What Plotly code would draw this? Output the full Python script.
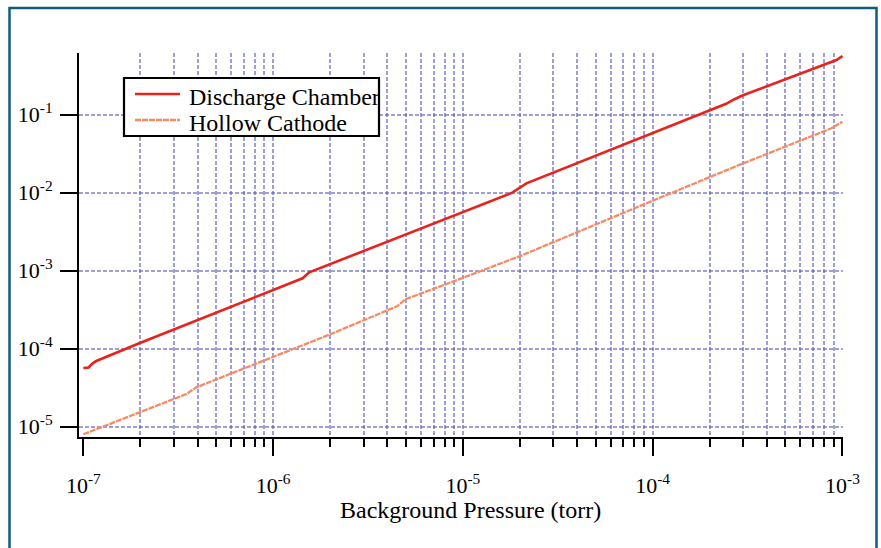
import plotly.graph_objects as go

# Background pressure (torr) and the two computed curves
discharge_p = [1.0e-7, 1.06e-7, 1.12e-7, 1.17e-7, 2.0e-7, 1.0e-6, 1.43e-6, 1.55e-6,
               4.25e-6, 1.0e-5, 1.82e-5, 2.16e-5, 1.0e-4, 1.94e-4,
               2.44e-4, 2.7e-4, 2.97e-4, 9.3e-4, 1.0e-3]
discharge_v = [5.66e-5, 5.72e-5, 6.5e-5, 6.95e-5, 1.19e-4, 5.66e-4, 8.0e-4, 9.53e-4,
               2.48e-3, 5.7e-3, 1.0e-2, 1.32e-2, 5.8e-2, 0.109,
               0.138, 0.158, 0.176, 0.502, 0.566]

cathode_p = [1.0e-7, 2.0e-7, 3.49e-7, 3.94e-7, 1.0e-6, 2.0e-6, 4.52e-6, 4.98e-6,
             1.0e-5, 2.0e-5, 1.0e-4, 2.86e-4, 8.75e-4, 1.0e-3]
cathode_v = [8.0e-6, 1.56e-5, 2.62e-5, 3.2e-5, 7.83e-5, 1.53e-4, 3.52e-4, 4.3e-4,
             8.1e-4, 1.54e-3, 7.9e-3, 2.27e-2, 6.7e-2, 8.13e-2]

series_names = ["Discharge Chamber", "Hollow Cathode"]
x_decades = [-7, -6, -5, -4, -3]
y_decades = [-5, -4, -3, -2, -1]
x_title = "Background Pressure (torr)"

W, H = 881, 548
ML, MR, MT, MB = 79, 38, 53, 111
PW, PH = W - ML - MR, H - MT - MB

FONT = "Liberation Serif, Times New Roman, serif"
GRID = "rgba(95,95,190,0.6)"
RED = "#e8221c"
ORANGE = "#f58b65"
ORANGE_DASH = "6px,1px"


def px_to_paper_x(px):
    return (px - ML) / PW


def px_to_paper_y(py):
    return (H - MB - py) / PH


fig = go.Figure()
fig.add_trace(go.Scatter(
    x=discharge_p, y=discharge_v, mode="lines", name=series_names[0],
    line=dict(color=RED, width=2.6), showlegend=False))
fig.add_trace(go.Scatter(
    x=cathode_p, y=cathode_v, mode="lines", name=series_names[1],
    line=dict(color=ORANGE, width=2.3, dash=ORANGE_DASH), showlegend=False))

# minor x grid/ticks: 2..9 in every decade plus the decades after the first
minor_x = [k * 10.0 ** e for e in x_decades[:-1] for k in range(2, 10)]
minor_x += [10.0 ** e for e in x_decades[1:]]

fig.update_xaxes(
    type="log", range=[-7.023, -2.997],
    tickmode="array", tickvals=[10.0 ** e for e in x_decades],
    ticktext=[f"10<sup>{e}</sup>" for e in x_decades],
    ticks="outside", ticklen=17, tickwidth=2, tickcolor="black",
    showline=True, linecolor="black", linewidth=2,
    showgrid=False, zeroline=False,
    tickfont=dict(family=FONT, size=22, color="black"),
    ticklabelstandoff=11,
    minor=dict(tickmode="array", tickvals=minor_x, ticks="outside", ticklen=8,
               tickwidth=2, tickcolor="black", showgrid=True,
               gridcolor=GRID, gridwidth=1.5, griddash="4px,2px"),
)
fig.update_yaxes(
    type="log", range=[-5.132, -0.209],
    tickmode="array", tickvals=[10.0 ** e for e in y_decades],
    ticktext=[f"10<sup>{e}</sup>" for e in y_decades],
    ticks="outside", ticklen=17, tickwidth=2, tickcolor="black",
    showline=True, linecolor="black", linewidth=2,
    showgrid=True, gridcolor=GRID, gridwidth=1.5, griddash="4px,2px",
    zeroline=False,
    tickfont=dict(family=FONT, size=22, color="black"),
    ticklabelstandoff=3,
)

fig.add_annotation(
    text=x_title, xref="paper", yref="paper",
    x=px_to_paper_x(470), y=px_to_paper_y(510),
    xanchor="center", yanchor="middle", showarrow=False,
    font=dict(family=FONT, size=24, color="black"))

# key box with a line sample and a label for each series
fig.add_shape(
    type="rect", xref="paper", yref="paper", layer="above",
    x0=px_to_paper_x(124), x1=px_to_paper_x(379),
    y0=px_to_paper_y(136), y1=px_to_paper_y(78),
    line=dict(color="black", width=2.2), fillcolor="white")
key_styles = [dict(color=RED, width=2.6), dict(color=ORANGE, width=2.3, dash=ORANGE_DASH)]
for row, (name, style) in enumerate(zip(series_names, key_styles)):
    yc = 94 + 26 * row
    fig.add_shape(
        type="line", xref="paper", yref="paper", layer="above",
        x0=px_to_paper_x(135), x1=px_to_paper_x(180),
        y0=px_to_paper_y(yc), y1=px_to_paper_y(yc), line=style)
    fig.add_annotation(
        text=name, xref="paper", yref="paper",
        x=px_to_paper_x(187), y=px_to_paper_y(yc + 3),
        xanchor="left", yanchor="middle", showarrow=False,
        font=dict(family=FONT, size=24, color="black"))

# outer frame of the figure
fig.add_shape(
    type="rect", xref="paper", yref="paper", layer="above",
    x0=px_to_paper_x(9.5), x1=px_to_paper_x(876.5),
    y0=px_to_paper_y(570), y1=px_to_paper_y(8),
    line=dict(color="#135b7b", width=2.5), fillcolor="rgba(0,0,0,0)")

fig.update_layout(
    width=W, height=H, autosize=False,
    margin=dict(l=ML, r=MR, t=MT, b=MB, pad=0),
    paper_bgcolor="white", plot_bgcolor="white",
    font=dict(family=FONT, color="black"),
    showlegend=False,
)

fig.write_html("out.html")
